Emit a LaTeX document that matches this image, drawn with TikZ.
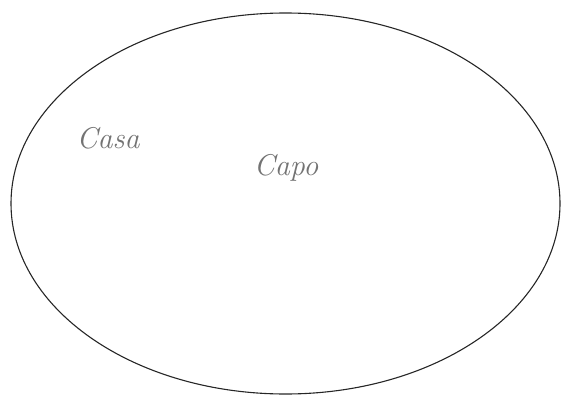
\documentclass[tikz,border=0pt]{standalone}
\begin{document}
\begin{tikzpicture}[x=1pt,y=-1pt,
  word/.style={text=black!55, font=\itshape\fontsize{30}{32}\selectfont, inner sep=0pt}]
\useasboundingbox (0,0) rectangle (562,396);
\draw[line width=1.1pt, black!85] (285.5,203.5) ellipse [x radius=274.5, y radius=190.5];
\node[word] (casa) at (108,138) {Casa};
\node[word] (capo) at (286,168) {Capo};
\end{tikzpicture}
\end{document}
